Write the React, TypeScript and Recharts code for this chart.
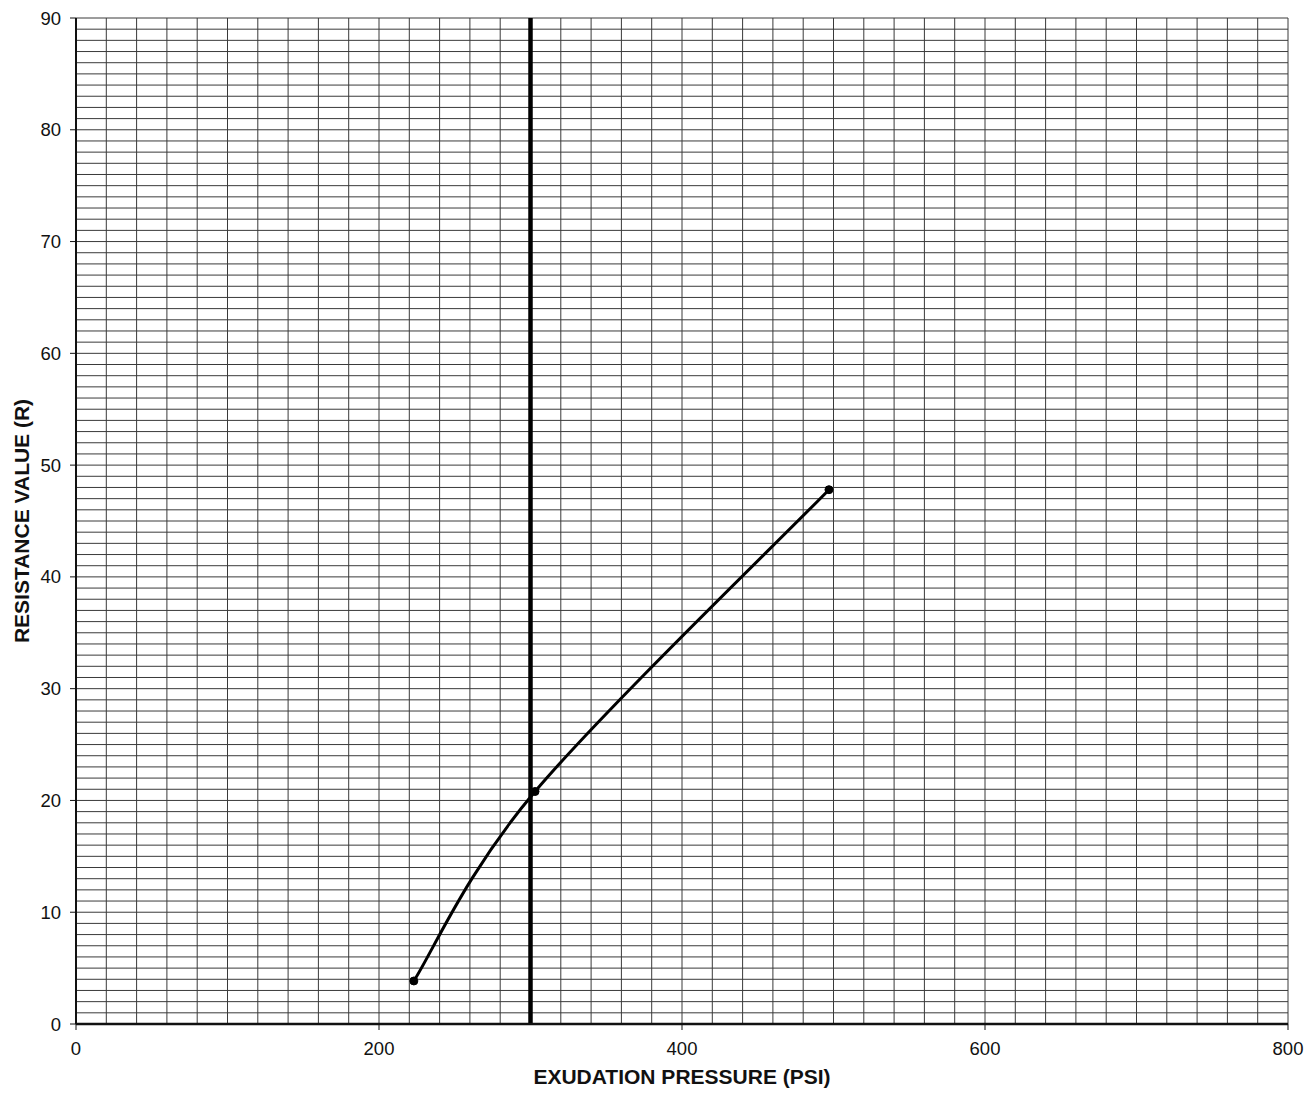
import { CartesianGrid, ComposedChart, Line, ReferenceLine, XAxis, YAxis } from "recharts";

// exudation pressure (psi) vs resistance value (R)
const PRESSURE = [223, 303, 497];
const RESISTANCE = [3.85, 20.8, 47.8];

const X_TICKS = [0, 200, 400, 600, 800];
const Y_TICKS = [0, 10, 20, 30, 40, 50, 60, 70, 80, 90];
// graph paper: vertical rule every 20 psi, horizontal every 1 R
const X_GRID = Array.from({ length: 41 }, (_, i) => i * 20);
const Y_GRID = Array.from({ length: 91 }, (_, i) => i);

const EXUDATION_LIMIT = 300;

const data = PRESSURE.map((p, i) => ({ pressure: p, r: RESISTANCE[i] }));

const FONT = "Arial, 'Liberation Sans', sans-serif";
const TICK = { fill: "#111", fontSize: 18.5, fontFamily: FONT };
const LABEL = { fill: "#111", fontSize: 21, fontWeight: 700, fontFamily: FONT };

// spreadsheet-style smoothed line (uniform catmull-rom, ends duplicated)
function smoothCurve(context: any) {
  let pts: number[][] = [];
  return {
    areaStart() {},
    areaEnd() {},
    lineStart() {
      pts = [];
    },
    lineEnd() {
      const n = pts.length;
      if (!n) return;
      context.moveTo(pts[0][0], pts[0][1]);
      for (let i = 0; i < n - 1; i++) {
        const p0 = pts[Math.max(i - 1, 0)];
        const p1 = pts[i];
        const p2 = pts[i + 1];
        const p3 = pts[Math.min(i + 2, n - 1)];
        context.bezierCurveTo(
          p1[0] + (p2[0] - p0[0]) / 6,
          p1[1] + (p2[1] - p0[1]) / 6,
          p2[0] - (p3[0] - p1[0]) / 6,
          p2[1] - (p3[1] - p1[1]) / 6,
          p2[0],
          p2[1]
        );
      }
    },
    point(x: number, y: number) {
      pts.push([x, y]);
    },
  };
}

export default function App() {
  return (
    <ComposedChart width={1299} height={1084} data={data} margin={{ top: 10, right: 19, bottom: 4, left: 0 }}>
      {/* hidden axes only carry the fine graph-paper ticks */}
      <XAxis xAxisId="grid" type="number" dataKey="pressure" domain={[0, 800]} ticks={X_GRID} interval={0} hide />
      <YAxis yAxisId="grid" type="number" dataKey="r" domain={[0, 90]} ticks={Y_GRID} interval={0} hide />
      <CartesianGrid xAxisId="grid" yAxisId="grid" stroke="#3a3a3a" strokeWidth={1} />
      <XAxis
        type="number"
        dataKey="pressure"
        domain={[0, 800]}
        ticks={X_TICKS}
        interval={0}
        height={64}
        tick={TICK}
        tickSize={6}
        tickMargin={12}
        axisLine={{ stroke: "#111", strokeWidth: 2.5 }}
        tickLine={{ stroke: "#111" }}
        label={{ value: "EXUDATION PRESSURE (PSI)", position: "insideBottom", offset: 4, style: LABEL }}
      />
      <YAxis
        type="number"
        domain={[0, 90]}
        ticks={Y_TICKS}
        interval={0}
        width={68}
        tick={TICK}
        tickSize={6}
        tickMargin={9}
        axisLine={{ stroke: "#111", strokeWidth: 2 }}
        tickLine={{ stroke: "#111" }}
        label={{ value: "RESISTANCE VALUE (R)", angle: -90, position: "insideLeft", offset: 14, style: { ...LABEL, textAnchor: "middle" } }}
      />
      <ReferenceLine x={EXUDATION_LIMIT} stroke="#000" strokeWidth={4.5} />
      <Line
        type={smoothCurve as any}
        dataKey="r"
        stroke="#000"
        strokeWidth={3}
        dot={{ r: 4, fill: "#000", stroke: "#000", strokeWidth: 1 }}
        isAnimationActive={false}
      />
    </ComposedChart>
  );
}
